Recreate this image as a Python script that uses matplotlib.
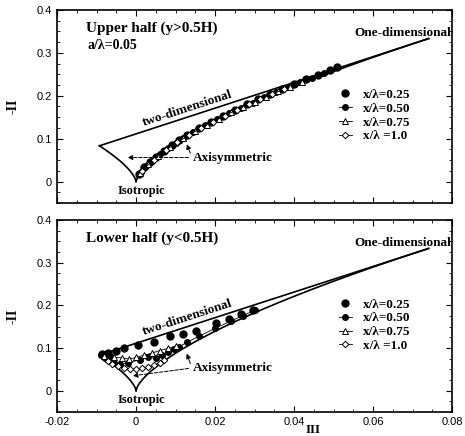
import numpy as np
import matplotlib
matplotlib.use('Agg')
import matplotlib.pyplot as plt
from matplotlib.ticker import MultipleLocator

plt.rcParams['font.family'] = ['Liberation Sans', 'DejaVu Sans']

# Lumley triangle corners (III, -II)
iso = (0.0, 0.0)
two_d = (-1 / 108, 1 / 12)
one_d = (2 / 27, 1 / 3)

series_labels = ['x/\u03bb=0.25', 'x/\u03bb=0.50', 'x/\u03bb=0.75', 'x/\u03bb =1.0']

# upper half (y > 0.5H)
up_III_025 = [0.0008, 0.002, 0.0035, 0.005, 0.007, 0.009, 0.011, 0.013, 0.016, 0.019, 0.022,
              0.025, 0.028, 0.031, 0.034, 0.037, 0.040, 0.043, 0.046, 0.049, 0.051]
up_II_025 = [0.018, 0.033, 0.046, 0.058, 0.072, 0.085, 0.097, 0.109, 0.125, 0.140, 0.154,
             0.167, 0.180, 0.192, 0.204, 0.216, 0.227, 0.238, 0.249, 0.259, 0.266]
up_III_050 = [0.0012, 0.0025, 0.004, 0.006, 0.008, 0.010, 0.012, 0.0145, 0.0175, 0.0205,
              0.0235, 0.0265, 0.0295, 0.0325, 0.0355, 0.0385, 0.0415, 0.0445, 0.0475]
up_II_050 = [0.022, 0.036, 0.049, 0.064, 0.078, 0.090, 0.101, 0.115, 0.131, 0.145,
             0.159, 0.172, 0.184, 0.196, 0.208, 0.220, 0.231, 0.242, 0.252]
up_III_075 = [0.001, 0.003, 0.0055, 0.0085, 0.012, 0.015, 0.018, 0.021, 0.024, 0.027,
              0.030, 0.033, 0.036, 0.039, 0.042]
up_II_075 = [0.020, 0.040, 0.059, 0.080, 0.101, 0.117, 0.133, 0.147, 0.161, 0.174,
             0.186, 0.198, 0.210, 0.221, 0.232]
up_III_100 = [0.0015, 0.0045, 0.0075, 0.0105, 0.0135, 0.0165, 0.0195, 0.0225, 0.0255,
              0.0285, 0.0315, 0.0345, 0.0375]
up_II_100 = [0.025, 0.051, 0.073, 0.092, 0.109, 0.125, 0.140, 0.154, 0.167,
             0.180, 0.192, 0.204, 0.215]

# lower half (y < 0.5H)
lo_III_025 = [-0.0085, -0.008, -0.0072, -0.0065, -0.005, -0.003, 0.0005, 0.0045, 0.0085,
              0.012, 0.0152, 0.0203, 0.0236, 0.0266, 0.0295]
lo_II_025 = [0.086, 0.082, 0.088, 0.079, 0.092, 0.100, 0.108, 0.114, 0.127,
             0.134, 0.141, 0.158, 0.168, 0.179, 0.188]
lo_III_050 = [-0.0088, -0.0078, -0.0068, -0.0055, -0.004, -0.002, 0.001, 0.003, 0.005, 0.0065,
              0.008, 0.0095, 0.011, 0.013, 0.016, 0.020, 0.024, 0.027, 0.030]
lo_II_050 = [0.083, 0.077, 0.072, 0.066, 0.062, 0.066, 0.072, 0.078, 0.076, 0.084,
             0.090, 0.097, 0.103, 0.114, 0.128, 0.146, 0.163, 0.176, 0.188]
lo_III_075 = [-0.0082, -0.007, -0.0055, -0.0035, -0.0018, 0.000, 0.002, 0.004, 0.006, 0.008, 0.010]
lo_II_075 = [0.081, 0.074, 0.078, 0.077, 0.074, 0.078, 0.083, 0.088, 0.094, 0.099, 0.104]
lo_III_100 = [-0.007, -0.006, -0.0045, -0.003, -0.0015, 0.000, 0.0015, 0.003, 0.0045, 0.006, 0.0072]
lo_II_100 = [0.070, 0.063, 0.057, 0.053, 0.051, 0.050, 0.052, 0.055, 0.060, 0.066, 0.072]

serif = ['Liberation Serif', 'DejaVu Serif']


def draw_triangle(ax):
    # two-component limit (straight line) and axisymmetric branches
    ax.plot([two_d[0], one_d[0]], [two_d[1], one_d[1]], color='black', lw=1.2)
    left = np.linspace(two_d[0], 0, 100)
    right = np.linspace(0, one_d[0], 200)
    ax.plot(left, 3 * (np.abs(left) / 2) ** (2 / 3), color='black', lw=1.2)
    ax.plot(right, 3 * (right / 2) ** (2 / 3), color='black', lw=1.2)


def draw_series(ax, data):
    styles = [
        dict(marker='o', ms=5, mfc='black', mec='black', ls='none'),
        dict(marker='o', ms=4, mfc='black', mec='black', ls='-', lw=0.6),
        dict(marker='^', ms=4, mfc='white', mec='black', mew=0.7, ls='-', lw=0.6),
        dict(marker='D', ms=3.3, mfc='white', mec='black', mew=0.7, ls='-', lw=0.6),
    ]
    for (x, y), st, lab in zip(data, styles, series_labels):
        ax.plot(x, y, color='black', label=lab, **st)


def style_axes(ax, show_xlabels):
    ax.set_xlim(-0.02, 0.08)
    ax.set_ylim(-0.05, 0.4)
    ax.xaxis.set_minor_locator(MultipleLocator(0.005))
    ax.yaxis.set_minor_locator(MultipleLocator(0.025))
    ax.set_yticks([0, 0.1, 0.2, 0.3, 0.4])
    ax.set_yticklabels(['0', '0.1', '0.2', '0.3', '0.4'])
    ax.set_xticks([-0.02, 0, 0.02, 0.04, 0.06, 0.08])
    if show_xlabels:
        ax.set_xticklabels(['-0.02', '0', '0.02', '0.04', '0.06', '0.08'])
    else:
        ax.set_xticklabels([])
    ax.tick_params(which='both', direction='in', top=True, right=True, labelsize=8)
    ax.tick_params(which='major', length=4)
    ax.tick_params(which='minor', length=2)
    for s in ax.spines.values():
        s.set_linewidth(1.2)
    ax.set_ylabel('-II', family=serif, fontweight='bold', fontsize=10)
    ax.yaxis.set_label_coords(-0.095, 0.5)


def annotate(ax, title, dashed_from, dashed_to, ytext):
    ax.text(-0.0127, 0.349, title, family=serif, fontweight='bold', fontsize=11)
    ax.text(0.0129, 0.170, 'two-dimensional', family=serif, fontweight='bold', fontsize=9.5,
            rotation=18, ha='center', va='center', rotation_mode='anchor')
    ax.text(0.0676, 0.347, 'One-dimensional', family=serif, fontweight='bold', fontsize=9.5,
            ha='center', va='center')
    ax.text(0.0013, -0.022, 'Isotropic', family=serif, fontweight='bold', fontsize=9,
            ha='center', va='center')
    ax.text(0.0145, ytext, 'Axisymmetric', family=serif, fontweight='bold', fontsize=9.5,
            ha='left', va='center')
    ax.annotate('', xy=dashed_to, xytext=dashed_from,
                arrowprops=dict(arrowstyle='-|>', ls='--', lw=0.7, color='black',
                                mutation_scale=7))
    ax.annotate('', xy=(0.0126, 0.093), xytext=(0.0140, ytext + 0.004),
                arrowprops=dict(arrowstyle='-|>', lw=0.7, color='black', mutation_scale=7))
    ax.legend(loc='upper left', bbox_to_anchor=(0.69, 0.64), frameon=False,
              prop=dict(family=serif, weight='bold', size=9.5), handlelength=1.0,
              handletextpad=0.8, labelspacing=0.12, borderpad=0.2)


fig = plt.figure(figsize=(4.65, 4.36), dpi=100)
ax1 = fig.add_axes([0.1226, 0.5344, 0.8495, 0.4427])
ax2 = fig.add_axes([0.1226, 0.0550, 0.8495, 0.4404])

draw_triangle(ax1)
draw_series(ax1, [(up_III_025, up_II_025), (up_III_050, up_II_050),
                  (up_III_075, up_II_075), (up_III_100, up_II_100)])
style_axes(ax1, False)
annotate(ax1, 'Upper half (y>0.5H)', (0.0140, 0.056), (-0.0028, 0.056), 0.056)
ax1.text(-0.0122, 0.309, 'a/\u03bb=0.05', family=serif, fontweight='bold', fontsize=10)

draw_triangle(ax2)
draw_series(ax2, [(lo_III_025, lo_II_025), (lo_III_050, lo_II_050),
                  (lo_III_075, lo_II_075), (lo_III_100, lo_II_100)])
style_axes(ax2, True)
annotate(ax2, 'Lower half (y<0.5H)', (0.0140, 0.053), (-0.0015, 0.034), 0.053)
ax2.set_xlabel('III', family=serif, fontweight='bold', fontsize=9.5)
ax2.xaxis.label.set_verticalalignment('center')
ax2.xaxis.set_label_coords(0.648, -0.092)

fig.savefig('out.png', dpi=100)
